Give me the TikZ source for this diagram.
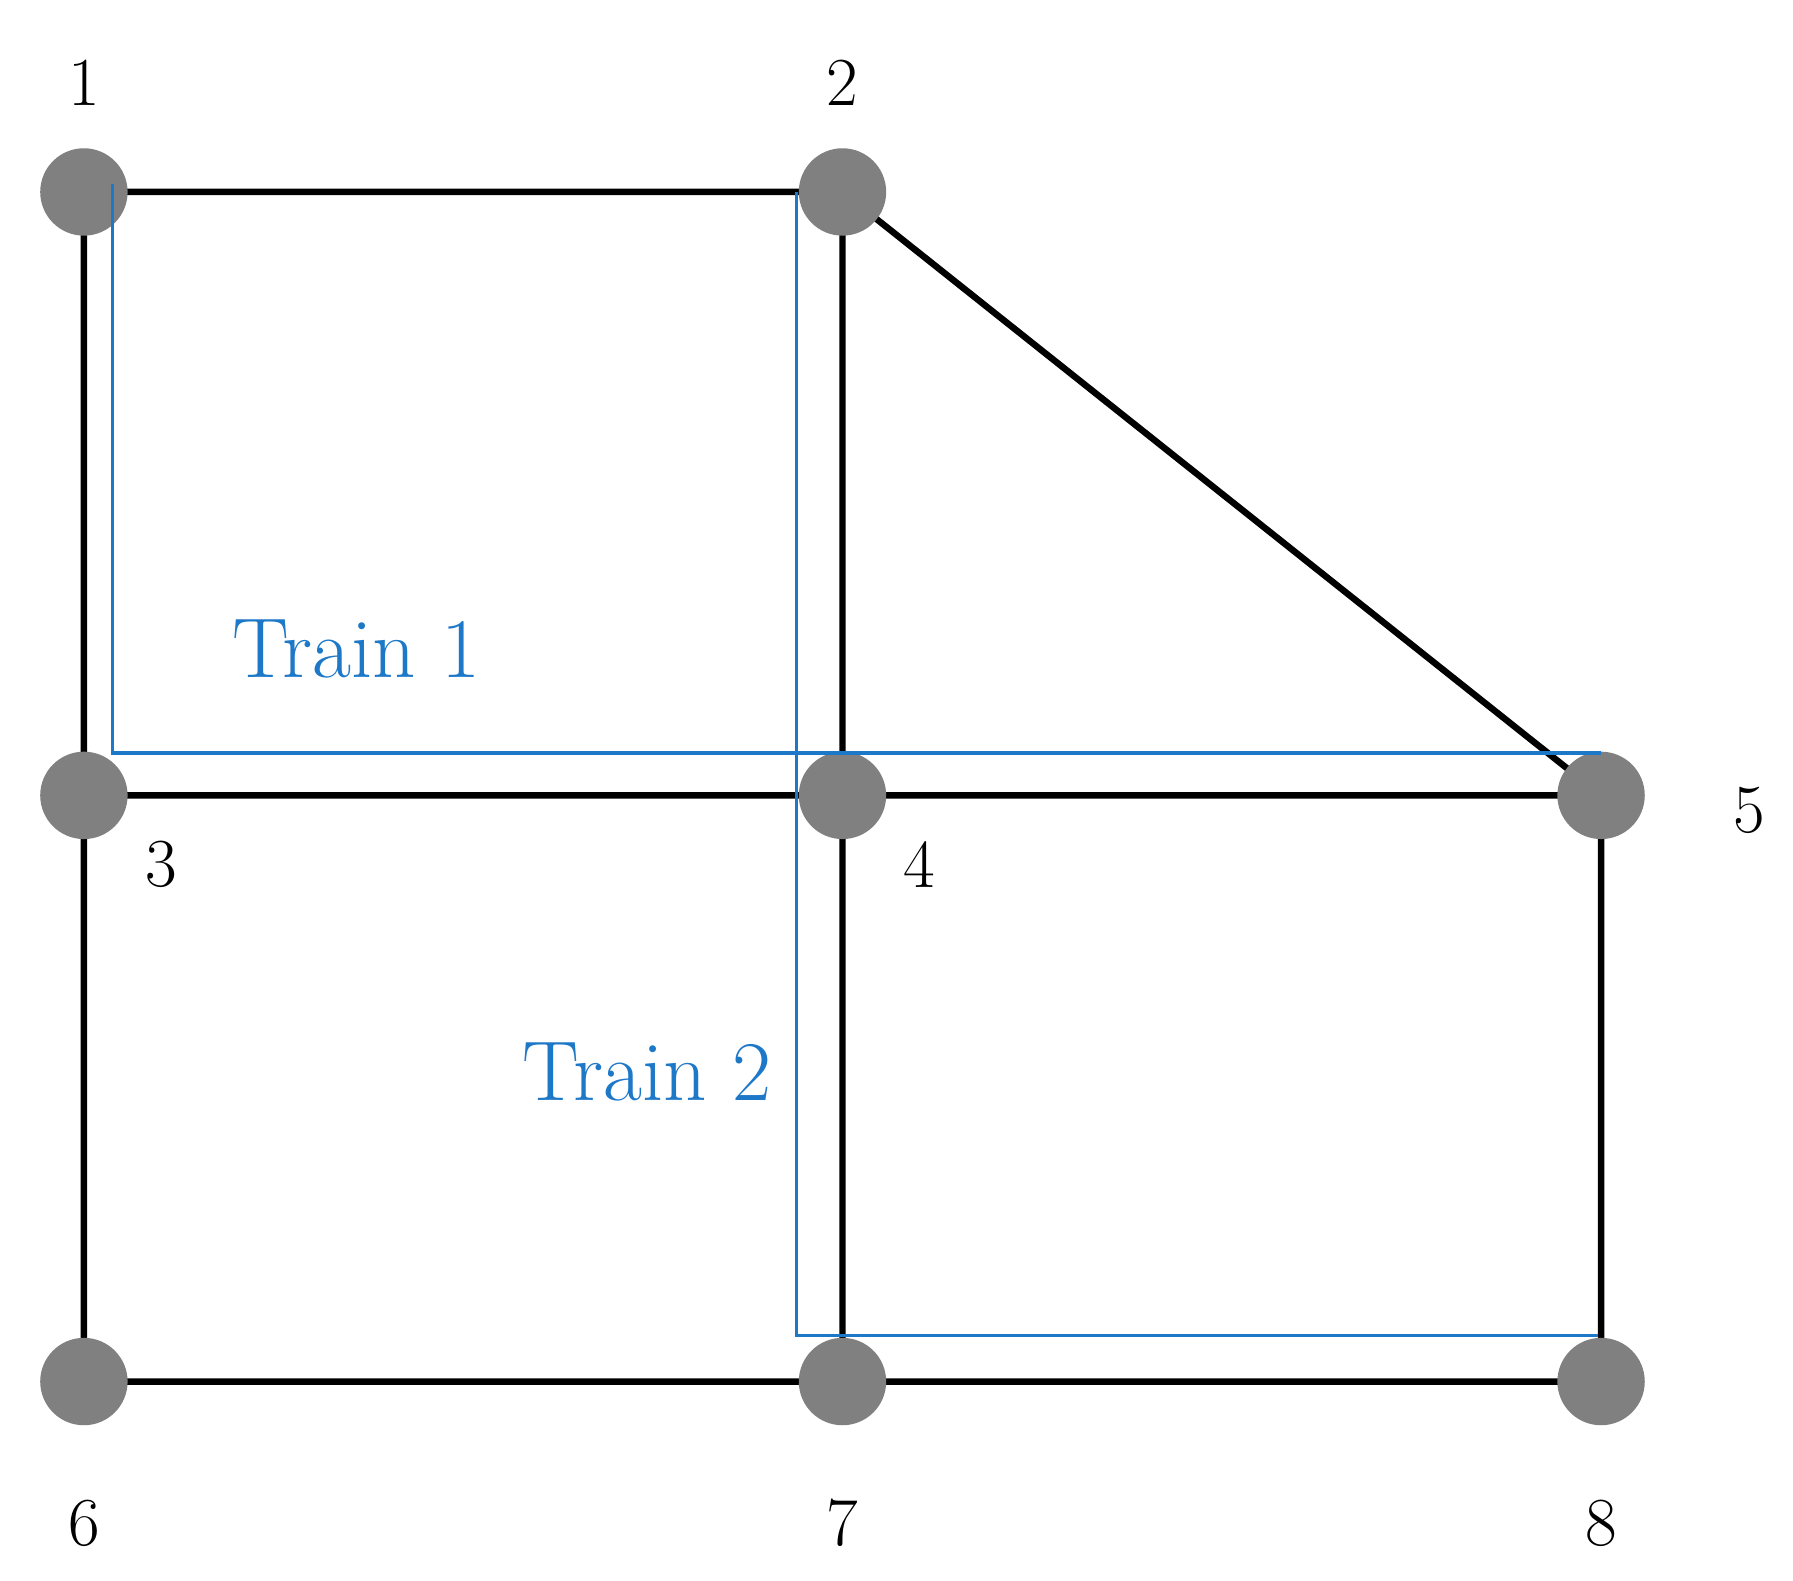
\documentclass[tikz,border=0pt]{standalone}
\begin{document}
\begin{tikzpicture}[x=0.01cm,y=-0.01cm,
  v/.style={circle,fill=gray,minimum size=0.76cm,inner sep=0pt},
  lab/.style={font=\fontsize{17}{20}\selectfont},
  edge/.style={line width=1.6pt,black},
  train/.style={line width=0.9pt,color={rgb,255:red,30;green,120;blue,200}},
  tl/.style={font=\fontsize{21}{24}\selectfont,color={rgb,255:red,30;green,120;blue,200}}]
\useasboundingbox (0,0) rectangle (1560,1375);
\draw[edge] (73,167)--(733,167) (73,167)--(73,692) (733,167)--(733,692) (733,167)--(1393,692)
  (73,692)--(1393,692) (73,692)--(73,1202) (733,692)--(733,1202) (1393,692)--(1393,1202) (73,1202)--(1393,1202);
\node[v] (n1) at (73,167) {};
\node[v] (n2) at (733,167) {};
\node[v] (n3) at (73,692) {};
\node[v] (n4) at (733,692) {};
\node[v] (n5) at (1393,692) {};
\node[v] (n6) at (73,1202) {};
\node[v] (n7) at (733,1202) {};
\node[v] (n8) at (1393,1202) {};
\draw[train] (98,160)--(98,655)--(1393,655);
\draw[train] (693,167)--(693,1162)--(1390,1162);
\node[lab] (l1) at (73,72) {1};
\node[lab] (l2) at (733,72) {2};
\node[lab] (l3) at (140,752) {3};
\node[lab] (l4) at (800,752) {4};
\node[lab] (l5) at (1522,705) {5};
\node[lab] (l6) at (73,1325) {6};
\node[lab] (l7) at (733,1325) {7};
\node[lab] (l8) at (1393,1325) {8};
\node[tl] (t1) at (310,565) {Train 1};
\node[tl] (t2) at (563,933) {Train 2};
\end{tikzpicture}
\end{document}
